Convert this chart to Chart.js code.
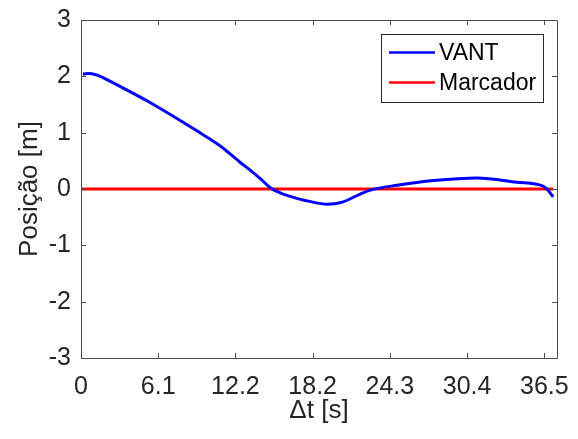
<!DOCTYPE html>
<html>
<head>
<meta charset="utf-8">
<script src="https://cdn.jsdelivr.net/npm/chart.js@4"></script>
<style>
  html, body { margin: 0; padding: 0; background: #ffffff; }
  #wrap { width: 578px; height: 439px; }
</style>
</head>
<body>
<div id="wrap"><canvas id="c" width="578" height="439"></canvas></div>
<script>
// Time samples [s] and position [m] of the UAV trajectory
const tVant = [0.15, 0.7, 1.3, 1.8, 3.6, 5.4, 7.2, 9.0, 11.0, 12.5, 13.3, 14.1, 15.0, 16.6, 18.0, 19.4, 20.5, 22.0, 22.8, 24.9, 27.8, 31.2, 34.3, 36.4, 36.7, 37.2];
const yVant = [2.04, 2.05, 2.02, 1.97, 1.76, 1.54, 1.30, 1.05, 0.76, 0.48, 0.34, 0.19, 0.01, -0.14, -0.22, -0.27, -0.24, -0.09, -0.02, 0.066, 0.15, 0.195, 0.12, 0.05, 0.0, -0.14];

// Marker reference position (constant at the origin)
const tMarcador = [0, 37.2];
const yMarcador = [0, 0];

// Axis ticks
const xTickValues = [0, 6.0833, 12.1667, 18.25, 24.3333, 30.4167, 36.5];
const xTickLabels = ['0', '6.1', '12.2', '18.2', '24.3', '30.4', '36.5'];
const yTickValues = [-3, -2, -1, 0, 1, 2, 3];

const FONT = "'Liberation Sans', Arial, Helvetica, sans-serif";
const INK = '#262626';

const toPoints = (xs, ys) => xs.map((x, i) => ({ x: x, y: ys[i] }));

// Box around the axes with inward-pointing ticks on all four sides
const boxTicks = {
  id: 'boxTicks',
  afterDatasetsDraw(chart) {
    const { ctx, chartArea: a, scales } = chart;
    const len = 5;
    ctx.save();
    ctx.strokeStyle = '#4a4a4a';
    ctx.lineWidth = 1;
    ctx.beginPath();
    ctx.rect(Math.round(a.left) + 0.5, Math.round(a.top) + 0.5,
             Math.round(a.right - a.left), Math.round(a.bottom - a.top));
    scales.x.ticks.forEach(t => {
      const px = Math.round(scales.x.getPixelForValue(t.value)) + 0.5;
      ctx.moveTo(px, a.bottom); ctx.lineTo(px, a.bottom - len);
      ctx.moveTo(px, a.top); ctx.lineTo(px, a.top + len);
    });
    scales.y.ticks.forEach(t => {
      const py = Math.round(scales.y.getPixelForValue(t.value)) + 0.5;
      ctx.moveTo(a.left, py); ctx.lineTo(a.left + len, py);
      ctx.moveTo(a.right, py); ctx.lineTo(a.right - len, py);
    });
    ctx.stroke();
    ctx.restore();
  }
};

// Boxed legend in the upper-right corner of the plot area
const boxLegend = {
  id: 'boxLegend',
  afterDatasetsDraw(chart) {
    const { ctx, chartArea: a } = chart;
    const ds = chart.data.datasets;
    const fontSize = 23;
    ctx.save();
    ctx.font = fontSize + 'px ' + FONT;
    const textW = Math.max(...ds.map(d => ctx.measureText(d.label).width));
    const padL = 8, lineLen = 46, gap = 4, padR = 7;
    const w = Math.round(padL + lineLen + gap + textW + padR);
    const h = 68;
    const x0 = Math.round(a.right - 14 - w);
    const y0 = Math.round(a.top + 14);
    ctx.fillStyle = '#ffffff';
    ctx.fillRect(x0, y0, w, h);
    ctx.strokeStyle = INK;
    ctx.lineWidth = 1;
    ctx.strokeRect(x0 + 0.5, y0 + 0.5, w, h);
    const rows = [18.5, 48.5];
    ds.forEach((d, i) => {
      const y = y0 + rows[i];
      ctx.strokeStyle = d.borderColor;
      ctx.lineWidth = 2.5;
      ctx.beginPath();
      ctx.moveTo(x0 + padL, y);
      ctx.lineTo(x0 + padL + lineLen, y);
      ctx.stroke();
      ctx.fillStyle = '#000000';
      ctx.textAlign = 'left';
      ctx.textBaseline = 'middle';
      ctx.fillText(d.label, x0 + padL + lineLen + gap, y + 1);
    });
    ctx.restore();
  }
};

new Chart(document.getElementById('c'), {
  type: 'line',
  data: {
    datasets: [
      {
        label: 'VANT',
        data: toPoints(tVant, yVant),
        borderColor: '#0000ff',
        borderWidth: 3,
        pointRadius: 0,
        cubicInterpolationMode: 'monotone',
        fill: false
      },
      {
        label: 'Marcador',
        data: toPoints(tMarcador, yMarcador),
        borderColor: '#ff0000',
        borderWidth: 3,
        pointRadius: 0,
        fill: false
      }
    ]
  },
  options: {
    responsive: false,
    animation: false,
    events: [],
    layout: { padding: { top: 20, right: 21, left: 0, bottom: 0 } },
    plugins: {
      legend: { display: false },
      tooltip: { enabled: false },
      title: { display: false }
    },
    scales: {
      x: {
        type: 'linear',
        min: 0,
        max: 37.5,
        afterBuildTicks: s => { s.ticks = xTickValues.map(v => ({ value: v })); },
        afterFit: s => { s.height = 81; s.paddingLeft = 0; s.paddingRight = 0; },
        grid: { display: false, drawTicks: false },
        border: { display: false },
        ticks: {
          padding: 14,
          maxRotation: 0,
          autoSkip: false,
          color: INK,
          font: { family: FONT, size: 25 },
          callback: (v, i) => xTickLabels[i]
        },
        title: {
          display: true,
          text: '\u0394t [s]',
          color: INK,
          font: { family: FONT, size: 26, lineHeight: 1.2 },
          padding: { top: 0, bottom: 13 }
        }
      },
      y: {
        type: 'linear',
        min: -3,
        max: 3,
        afterBuildTicks: s => { s.ticks = yTickValues.map(v => ({ value: v })); },
        afterFit: s => { s.width = 81; s.paddingTop = 0; s.paddingBottom = 0; },
        grid: { display: false, drawTicks: false },
        border: { display: false },
        ticks: {
          padding: 10,
          autoSkip: false,
          color: INK,
          font: { family: FONT, size: 25 },
          callback: v => String(v)
        },
        title: {
          display: true,
          text: 'Posição [m]',
          color: INK,
          font: { family: FONT, size: 26, lineHeight: 1.2 },
          padding: { top: 14, bottom: 0 }
        }
      }
    }
  },
  plugins: [boxTicks, boxLegend]
});
</script>
</body>
</html>
